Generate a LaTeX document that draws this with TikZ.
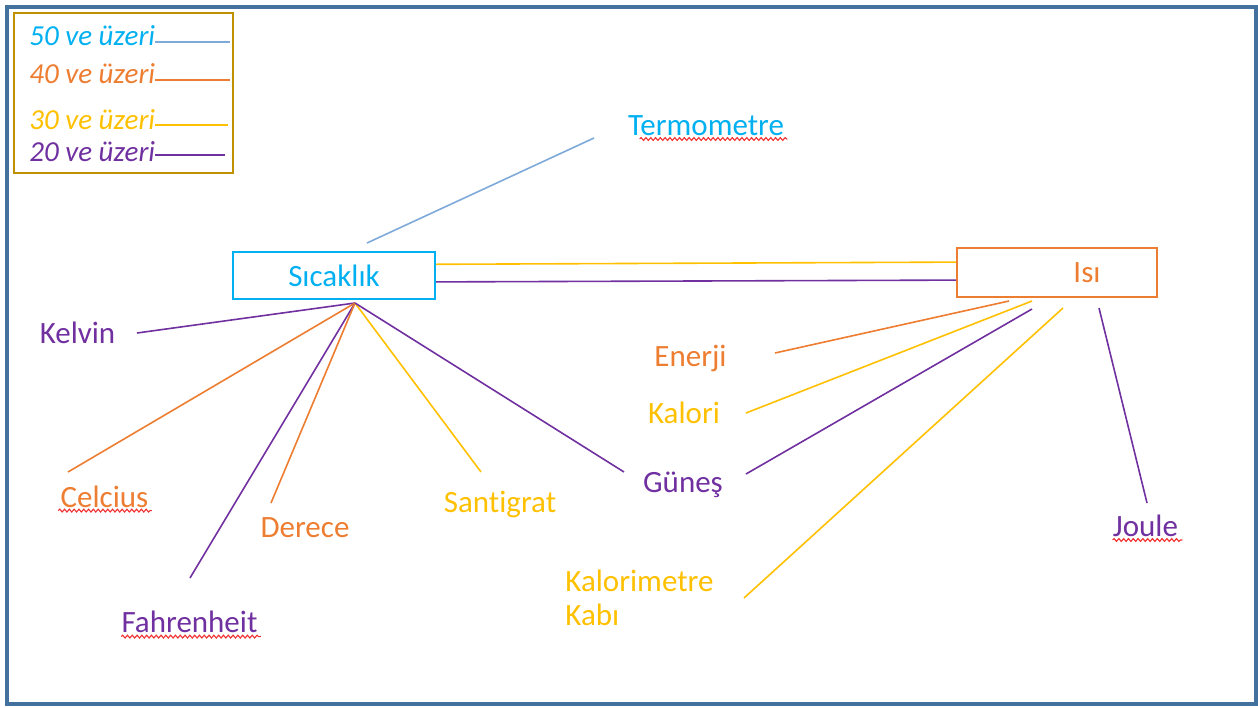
\documentclass[tikz,border=0pt]{standalone}
\usepackage{fontspec}
\setmainfont{Carlito}[Ligatures={NoCommon}]
\usetikzlibrary{decorations.pathmorphing}
\definecolor{cblue}{HTML}{00B0F0}
\definecolor{corange}{HTML}{ED7D31}
\definecolor{cyellow}{HTML}{FFC000}
\definecolor{cpurple}{HTML}{7030A0}
\definecolor{cframe}{HTML}{41719C}
\definecolor{cgold}{HTML}{BF9000}
\definecolor{clineblue}{HTML}{7FA9D9}
\definecolor{cwavy}{HTML}{F03030}
\begin{document}
\begin{tikzpicture}[x=0.5pt,y=-0.5pt,
  lab/.style={inner sep=0pt, anchor=base, font=\fontsize{15.5}{17}\selectfont},
  leg/.style={inner sep=0pt, anchor=base west, font=\fontsize{14.5}{16}\selectfont\itshape},
  conn/.style={line width=0.8pt},
  wavy/.style={draw=cwavy, line width=0.55pt, decorate, decoration={snake, amplitude=0.7pt, segment length=2.4pt}},
  box/.style={draw, line width=1pt, inner sep=0pt, font=\fontsize{15.5}{17}\selectfont}]
\useasboundingbox (0,0) rectangle (1258,707);
% outer frame
\draw[cframe, line width=1.8pt] (7,7) rectangle (1256,704);
% legend
\draw[cgold, line width=1pt] (14,13) rectangle (233,173);
\node[leg, text=cblue] (l50) at (29,45) {50 ve üzeri};
\node[leg, text=corange] (l40) at (29,83) {40 ve üzeri};
\node[leg, text=cyellow] (l30) at (29,129) {30 ve üzeri};
\node[leg, text=cpurple] (l20) at (29,161) {20 ve üzeri};
\coordinate (e50) at (230,42);
\coordinate (e40) at (230,80);
\coordinate (e30) at (228,125);
\coordinate (e20) at (225,155);
\draw[conn, clineblue] (l50.east |- e50) -- (e50);
\draw[conn, corange] (l40.east |- e40) -- (e40);
\draw[conn, cyellow] (l30.east |- e30) -- (e30);
\draw[conn, cpurple] (l20.east |- e20) -- (e20);
% main boxes
\node[box, draw=cblue, text=cblue, minimum width=101pt, minimum height=23.5pt] (sic) at (334,275.5) {Sıcaklık};
\node[box, draw=corange, text=corange, minimum width=100pt, minimum height=24.5pt] (isi) at (1057,272.5) {\hspace*{30pt}Isı};
% labels
\node[lab, text=cblue] (term) at (706,135) {Termometre};
\node[lab, text=cpurple] (kel) at (77.5,343) {Kelvin};
\node[lab, text=corange] (cel) at (104.5,507) {Celcius};
\node[lab, text=cpurple] (fah) at (189.5,632) {Fahrenheit};
\node[lab, text=corange] (der) at (305,537) {Derece};
\node[lab, text=cyellow] (san) at (500,512) {Santigrat};
\node[lab, text=cpurple] (gun) at (683,492) {Güneş};
\node[lab, text=corange] (ene) at (690.5,366) {Enerji};
\node[lab, text=cyellow] (kal) at (684,423) {Kalori};
\node[inner sep=0pt, anchor=north west, align=left, text=cyellow, font=\fontsize{15.5}{17}\selectfont] (kab) at (565,570) {Kalorimetre\\Kabı};
\node[lab, text=cpurple] (jou) at (1145.5,536) {Joule};
% spell-check underlines
\draw[wavy] ([xshift=6pt,yshift=-2pt]term.base west) -- ([xshift=1.5pt,yshift=-2pt]term.base east);
\draw[wavy] ([xshift=-1pt,yshift=-1.8pt]cel.base west) -- ([xshift=1.5pt,yshift=-1.8pt]cel.base east);
\draw[wavy] ([yshift=-2.3pt]fah.base west) -- ([xshift=1.5pt,yshift=-2.3pt]fah.base east);
\draw[wavy] ([yshift=-2pt]jou.base west) -- ([xshift=2pt,yshift=-2pt]jou.base east);
% connector end points
\coordinate (hub) at (355,303);
\coordinate (termA) at (367,243);
\coordinate (termB) at (594,138);
\coordinate (kelE) at (137,333);
\coordinate (celE) at (68,472);
\coordinate (fahE) at (190,578);
\coordinate (derE) at (271,503);
\coordinate (sanE) at (481,472);
\coordinate (gunA) at (624,472);
\coordinate (gunB) at (746,474);
\coordinate (eneE) at (775,353);
\coordinate (kalE) at (746,413);
\coordinate (kabE) at (744,598);
\coordinate (jouE) at (1147,503);
\coordinate (iEne) at (1009,301);
\coordinate (iKal) at (1032,301);
\coordinate (iGun) at (1032,309);
\coordinate (iKab) at (1063,308);
\coordinate (iJou) at (1099,308);
% connectors
\draw[conn, clineblue] (termA) -- (termB);
\draw[conn, cyellow] ([yshift=5.6pt]sic.east) -- ([yshift=5.2pt]isi.west);
\draw[conn, cpurple] ([yshift=-3.2pt]sic.east) -- ([yshift=-3.8pt]isi.west);
\draw[conn, cpurple] (kelE) -- (hub);
\draw[conn, corange] (celE) -- (hub);
\draw[conn, cpurple] (fahE) -- (hub);
\draw[conn, corange] (derE) -- (hub);
\draw[conn, cyellow] (sanE) -- (hub);
\draw[conn, cpurple] (gunA) -- (hub);
\draw[conn, corange] (eneE) -- (iEne);
\draw[conn, cyellow] (kalE) -- (iKal);
\draw[conn, cpurple] (gunB) -- (iGun);
\draw[conn, cyellow] (kabE) -- (iKab);
\draw[conn, cpurple] (jouE) -- (iJou);
\end{tikzpicture}
\end{document}
